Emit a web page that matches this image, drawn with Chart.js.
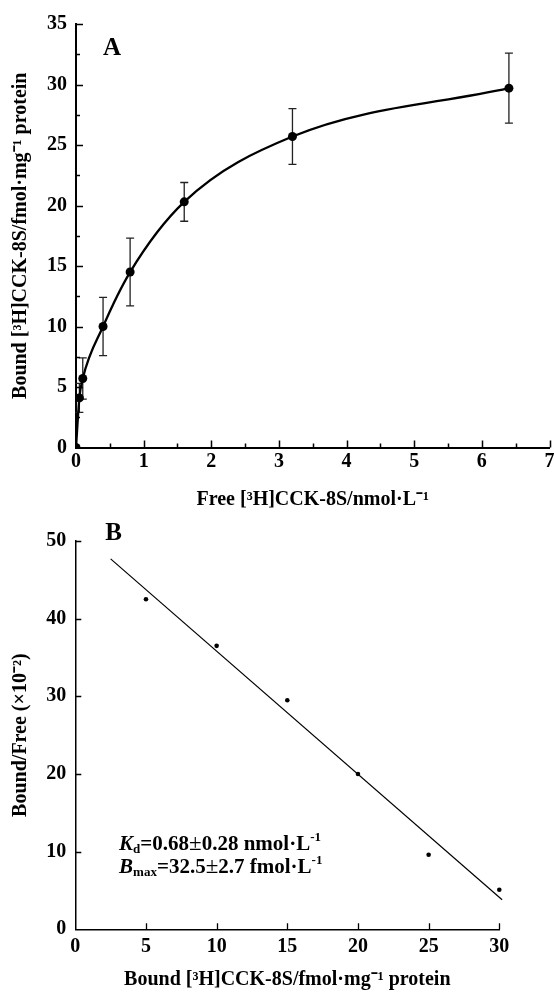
<!DOCTYPE html>
<html>
<head>
<meta charset="utf-8">
<script src="https://cdn.jsdelivr.net/npm/chart.js@4/dist/chart.umd.min.js"></script>
<style>
  html, body { margin: 0; padding: 0; background: #fff; }
  #wrap { position: relative; width: 554px; height: 992px; }
  .box { position: absolute; left: 0; width: 554px; }
  #boxA { top: 0; height: 512px; }
  #boxB { top: 512px; height: 480px; }
</style>
</head>
<body>
<div id="wrap">
  <div class="box" id="boxA"><canvas id="chartA"></canvas></div>
  <div class="box" id="boxB"><canvas id="chartB"></canvas></div>
</div>
<script>
// panel A - saturation binding
const freeConc = [0, 0.05, 0.1, 0.4, 0.8, 1.6, 3.2, 6.4];
const boundA = [0, 4.1, 5.7, 10.0, 14.5, 20.3, 25.7, 29.7];
const errA = [0, 1.2, 1.7, 2.4, 2.8, 1.6, 2.3, 2.9];
const minorAx = [0.5, 1.5, 2.5, 3.5, 4.5, 5.5, 6.5];
const minorAy = [2.5, 7.5, 12.5, 17.5, 22.5, 27.5, 32.5];

// panel B - Scatchard plot
const boundB = [5, 10, 15, 20, 25, 30];
const ratioB = [42.5, 36.5, 29.5, 20.0, 9.6, 5.1];
const fitX = [2.5, 30.2];
const fitY = [47.7, 3.8];

const SERIF = "'Liberation Serif', 'Times New Roman', serif";
Chart.defaults.font.family = SERIF;
Chart.defaults.color = '#000';

const tickFont = { size: 20, weight: 'bold' };
const titleFont = { size: 20, weight: 'bold' };

// ticks pointing into the plot
const inwardTicks = {
  id: 'inwardTicks',
  afterDraw(chart, args, opts) {
    const { ctx, chartArea: a, scales: { x, y } } = chart;
    ctx.save();
    ctx.strokeStyle = '#000';
    ctx.lineWidth = opts.lw;
    ctx.beginPath();
    x.ticks.forEach(t => {
      if (t.value === x.min) return;
      const px = Math.round(x.getPixelForValue(t.value)) + 0.5;
      ctx.moveTo(px, a.bottom); ctx.lineTo(px, a.bottom - opts.major);
    });
    (opts.minorX || []).forEach(v => {
      const px = Math.round(x.getPixelForValue(v)) + 0.5;
      ctx.moveTo(px, a.bottom); ctx.lineTo(px, a.bottom - opts.minor);
    });
    y.ticks.forEach(t => {
      if (t.value === y.min) return;
      const py = Math.round(y.getPixelForValue(t.value)) + 0.5;
      ctx.moveTo(a.left, py); ctx.lineTo(a.left + opts.major, py);
    });
    (opts.minorY || []).forEach(v => {
      const py = Math.round(y.getPixelForValue(v)) + 0.5;
      ctx.moveTo(a.left, py); ctx.lineTo(a.left + opts.minor, py);
    });
    ctx.stroke();
    ctx.restore();
  }
};

function drawRuns(ctx, x, y, runs) {
  runs.forEach(r => {
    ctx.font = r.font;
    ctx.fillText(r.text, x, y + (r.dy || 0));
    x += ctx.measureText(r.text).width;
  });
}

const errorBars = {
  id: 'errorBars',
  beforeDatasetsDraw(chart) {
    const { ctx, scales: { x, y } } = chart;
    ctx.save();
    ctx.strokeStyle = '#222';
    ctx.lineWidth = 1.3;
    ctx.beginPath();
    freeConc.forEach((fx, i) => {
      if (!errA[i]) return;
      const px = x.getPixelForValue(fx);
      const top = y.getPixelForValue(boundA[i] + errA[i]);
      const bot = y.getPixelForValue(boundA[i] - errA[i]);
      ctx.moveTo(px, top); ctx.lineTo(px, bot);
      ctx.moveTo(px - 4, top); ctx.lineTo(px + 4, top);
      ctx.moveTo(px - 4, bot); ctx.lineTo(px + 4, bot);
    });
    ctx.stroke();
    ctx.restore();
  }
};

const panelLabel = {
  id: 'panelLabel',
  afterDraw(chart, args, opts) {
    const { ctx, chartArea: a } = chart;
    ctx.save();
    ctx.fillStyle = '#000';
    ctx.textBaseline = 'alphabetic';
    ctx.font = 'bold 25px ' + SERIF;
    ctx.fillText(opts.text, a.left + opts.dx, a.top + opts.dy);
    if (opts.constants) {
      const { x, y } = chart.scales;
      const lx = x.getPixelForValue(3.1);
      const b = 'bold 21px ' + SERIF;
      const pm = '23px ' + SERIF;
      const sub = 'bold 13px ' + SERIF;
      drawRuns(ctx, lx, y.getPixelForValue(10.2), [
        { text: 'K', font: 'italic bold 21px ' + SERIF },
        { text: 'd', font: sub, dy: 3 },
        { text: '=0.68', font: b },
        { text: '±', font: pm },
        { text: '0.28 nmol·L', font: b },
        { text: '-1', font: sub, dy: -9 }
      ]);
      drawRuns(ctx, lx, y.getPixelForValue(7.3), [
        { text: 'B', font: 'italic bold 21px ' + SERIF },
        { text: 'max', font: sub, dy: 3 },
        { text: '=32.5', font: b },
        { text: '±', font: pm },
        { text: '2.7 fmol·L', font: b },
        { text: '-1', font: sub, dy: -9 }
      ]);
    }
    ctx.restore();
  }
};

function fixX(h) {
  return s => { s.height = h; s.paddingLeft = 0; s.paddingRight = 0; };
}
function fixY(w) {
  return s => { s.width = w; s.paddingTop = 0; s.paddingBottom = 0; };
}

new Chart(document.getElementById('chartA'), {
  type: 'scatter',
  data: {
    datasets: [{
      data: freeConc.map((v, i) => ({ x: v, y: boundA[i] })),
      showLine: true,
      cubicInterpolationMode: 'monotone',
      borderColor: '#000',
      borderWidth: 2.3,
      pointRadius: 4.5,
      pointBackgroundColor: '#000',
      pointBorderColor: '#000',
      pointBorderWidth: 0
    }]
  },
  options: {
    responsive: true,
    maintainAspectRatio: false,
    animation: false,
    devicePixelRatio: 1,
    layout: { padding: { top: 24, right: 2, bottom: 0, left: 0 } },
    plugins: {
      legend: { display: false },
      tooltip: { enabled: false },
      inwardTicks: { lw: 1.5, major: 7, minor: 4, minorX: minorAx, minorY: minorAy },
      panelLabel: { text: 'A', dx: 27, dy: 31 }
    },
    scales: {
      x: {
        type: 'linear', min: 0, max: 7,
        ticks: { stepSize: 1, font: tickFont, padding: 2, maxRotation: 0 },
        grid: { display: false, drawTicks: false },
        border: { display: true, color: '#000', width: 2 },
        title: { display: true, text: 'Free [³H]CCK-8S/nmol·L⁻¹', font: titleFont, padding: { top: 0, bottom: 0 } },
        afterFit: fixX(64.5)
      },
      y: {
        type: 'linear', min: 0, max: 35,
        ticks: { stepSize: 5, font: tickFont, padding: 9 },
        grid: { display: false, drawTicks: false },
        border: { display: true, color: '#000', width: 2 },
        title: { display: true, text: 'Bound [³H]CCK-8S/fmol·mg⁻¹ protein', font: titleFont, padding: { top: 9, bottom: 0 } },
        afterFit: fixY(76)
      }
    }
  },
  plugins: [inwardTicks, errorBars, panelLabel]
});

new Chart(document.getElementById('chartB'), {
  type: 'scatter',
  data: {
    datasets: [{
      data: boundB.map((v, i) => ({ x: v, y: ratioB[i] })),
      pointRadius: 2.3,
      pointBackgroundColor: '#000',
      pointBorderWidth: 0,
      clip: false
    }, {
      data: fitX.map((v, i) => ({ x: v, y: fitY[i] })),
      showLine: true,
      borderColor: '#000',
      borderWidth: 1.2,
      pointRadius: 0,
      clip: false
    }]
  },
  options: {
    responsive: true,
    maintainAspectRatio: false,
    animation: false,
    devicePixelRatio: 1,
    layout: { padding: { top: 29, right: 54.7, bottom: 0, left: 0 } },
    plugins: {
      legend: { display: false },
      tooltip: { enabled: false },
      inwardTicks: { lw: 1.3, major: 6, minor: 0 },
      panelLabel: { text: 'B', dx: 30, dy: -1, constants: true }
    },
    scales: {
      x: {
        type: 'linear', min: 0, max: 30,
        ticks: { stepSize: 5, font: tickFont, padding: 6, maxRotation: 0 },
        grid: { display: false, drawTicks: false },
        border: { display: true, color: '#000', width: 1.5 },
        title: { display: true, text: 'Bound [³H]CCK-8S/fmol·mg⁻¹ protein', font: titleFont, padding: { top: 0, bottom: 0 } },
        afterFit: fixX(62.7)
      },
      y: {
        type: 'linear', min: 0, max: 50,
        ticks: { stepSize: 10, font: tickFont, padding: 9 },
        grid: { display: false, drawTicks: false },
        border: { display: true, color: '#000', width: 1.5 },
        title: { display: true, text: 'Bound/Free (×10⁻²)', font: titleFont, padding: { top: 9, bottom: 0 } },
        afterFit: fixY(75.3)
      }
    }
  },
  plugins: [inwardTicks, panelLabel]
});
</script>
</body>
</html>
